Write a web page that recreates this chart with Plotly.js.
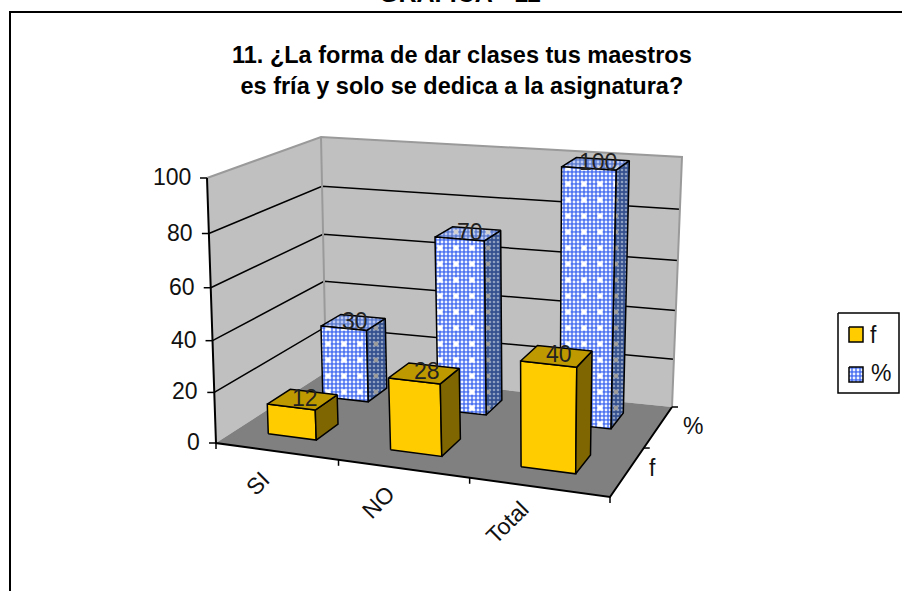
<!DOCTYPE html>
<html><head><meta charset="utf-8">
<script src="https://cdn.plot.ly/plotly-3.0.1.min.js"></script>
<style>html,body{margin:0;padding:0;background:#fff;overflow:hidden}</style>
</head><body><div id="chart" style="width:902px;height:591px"></div>
<script>
const categories = ['SI','NO','Total'];
const seriesNames = ['f','%'];
const fValues = [12,28,40];
const pctValues = [30,70,100];
const zTicks = [0,20,40,60,80,100];
const chartTitle = '11. ¿La forma de dar clases tus maestros<br>es fría y solo se dedica a la asignatura?';
const pageHeading = 'GRAFICA - 11';

// camera of the 3-D box: floor and ceiling quadrilaterals in page pixels
const floorQuad = [[216,443],[610,497],[672,407],[326,372]];
const topQuad   = [[207,178],[616,212],[682,157],[321,137]];
function homography(q){
  const [p0,p1,p2,p3]=q;
  const dx1=p1[0]-p2[0],dx2=p3[0]-p2[0],sx=p0[0]-p1[0]+p2[0]-p3[0];
  const dy1=p1[1]-p2[1],dy2=p3[1]-p2[1],sy=p0[1]-p1[1]+p2[1]-p3[1];
  const den=dx1*dy2-dx2*dy1;
  const g=(sx*dy2-dx2*sy)/den,h=(dx1*sy-sx*dy1)/den;
  const a=p1[0]-p0[0]+g*p1[0],b=p3[0]-p0[0]+h*p3[0],c=p0[0];
  const d=p1[1]-p0[1]+g*p1[1],e=p3[1]-p0[1]+h*p3[1],f=p0[1];
  return (s,t)=>{const w=g*s+h*t+1;return [(a*s+b*t+c)/w,(d*s+e*t+f)/w];};
}
const hFloor=homography(floorQuad), hTop=homography(topQuad);
// u: category axis 0..3, v: series axis 0..2, z: value 0..100
function P(u,v,z){
  let s=u/3; s=s+0.057*s*(1-s);
  const a=hFloor(s,v/2), b=hTop(s,v/2);
  const t=z/100, k=t/(1+0.06*(1-t));
  return [a[0]+(b[0]-a[0])*k, a[1]+(b[1]-a[1])*k];
}
const traces=[], notes=[];
function poly(pts,opt){
  const xs=pts.map(p=>p[0]),ys=pts.map(p=>p[1]);
  const closed=opt.fill||opt.fillpattern;
  if(closed){xs.push(xs[0]);ys.push(ys[0]);}
  const t={type:'scatter',mode:opt.lw?'lines':'none',x:xs,y:ys,hoverinfo:'skip',showlegend:false,
    line:{color:opt.lc||'#000',width:opt.lw||0,simplify:false}};
  if(closed){t.fill='toself';t.fillcolor=opt.fill||'rgba(0,0,0,0)';}
  if(opt.fillpattern)t.fillpattern=opt.fillpattern;
  traces.push(t);
}
function line(pts,c,w){traces.push({type:'scatter',mode:'lines',x:pts.map(p=>p[0]),y:pts.map(p=>p[1]),
  hoverinfo:'skip',showlegend:false,line:{color:c,width:w}});}
const FONT='Liberation Sans, Arial, sans-serif';
function note(x,y,text,size,o){notes.push(Object.assign({xref:'x',yref:'y',x:x,y:y,text:text,showarrow:false,
  font:{family:FONT,size:size,color:o&&o.color||'#111'},xanchor:'center',yanchor:'middle'},o||{}));}

// chart frame
line([[10,591],[10,12],[902,12]],'#000',2);

// walls and floor
const WALL='#c0c0c0',EDGE='#9a9a9a';
poly([P(0,0,0),P(0,2,0),P(0,2,100),P(0,0,100)],{fill:WALL});
poly([P(0,2,0),P(3,2,0),P(3,2,100),P(0,2,100)],{fill:WALL});
poly([P(0,0,0),P(3,0,0),P(3,2,0),P(0,2,0)],{fill:'#808080'});
zTicks.slice(1,-1).forEach(z=>line([P(0,0,z),P(0,2,z),P(3,2,z)],'#000',1.5));
line([P(0,0,100),P(0,2,100),P(3,2,100),P(3,2,0)],EDGE,2);
line([P(0,2,0),P(0,2,100)],EDGE,2);

// axes
line([P(0,0,100),P(0,0,0),P(3,0,0),P(3,2,0)],'#000',2);
zTicks.forEach(z=>{const p=P(0,0,z);line([[p[0]-7,p[1]],p],'#000',1.5);
  note(p[0]-14,p[1]-1,String(z),23,{xanchor:'right'});});
[0,1,2,3].forEach(i=>{const p=P(i,0,0);line([p,[p[0],p[1]+6]],'#000',1.5);});
[1,2].forEach(i=>{const p=P(3,i,0);line([p,[p[0]+6,p[1]]],'#000',1.5);});

// bars
const GOLD={front:'#ffcc00',side:'#7f6600',top:'#bf9900'};
const DOT=(bg,fg,size,sol)=>({shape:'.',bgcolor:bg,fgcolor:fg,size:size,solidity:sol,fgopacity:1});
function bar(i,row,val,kind){
  const u0=i+0.27,u1=i+0.67,v0=row+0.33,v1=row+0.73;
  const fr=[P(u0,v0,0),P(u1,v0,0),P(u1,v0,val),P(u0,v0,val)];
  const sd=[P(u1,v0,0),P(u1,v1,0),P(u1,v1,val),P(u1,v0,val)];
  const tp=[P(u0,v0,val),P(u1,v0,val),P(u1,v1,val),P(u0,v1,val)];
  if(kind==='f'){
    poly(fr,{fill:GOLD.front,lw:1.5});poly(sd,{fill:GOLD.side,lw:1.5});poly(tp,{fill:GOLD.top,lw:1.5});
  }else{
    poly(sd,{fillpattern:DOT('#34508f','#8f9fc0',4,0.35)});
    poly(sd,{fillpattern:DOT('rgba(0,0,0,0)','#9a9a9a',16,0.07),lw:1.5});
    poly(tp,{fillpattern:DOT('#5f7ed0','#bfcaf0',4,0.4)});
    poly(tp,{fillpattern:DOT('rgba(0,0,0,0)','#d0d0d0',16,0.07),lw:1.5});
    poly(fr,{fillpattern:DOT('#4f74f2','#f0f4ff',4,0.4)});
    poly(fr,{fillpattern:DOT('rgba(0,0,0,0)','#ffffff',16,0.09),lw:1.5});
  }
}
pctValues.forEach((v,i)=>bar(i,1,v,'p'));
fValues.forEach((v,i)=>bar(i,0,v,'f'));
function barLabel(i,row,val){
  const p=P(i+0.5,row+0.56,val);
  note(p[0]-3,p[1]-1,String(val),23,{color:'#222'});
}
pctValues.forEach((v,i)=>barLabel(i,1,v));
fValues.forEach((v,i)=>barLabel(i,0,v));

// category and series labels
categories.forEach((c,i)=>{const p=P(i+0.5,0,0);
  note(p[0]-18-i*6.5,p[1]+32+i*1.5,c,23,{textangle:-45});});
seriesNames.forEach((s,i)=>{const p=P(3,i+0.5,0);
  note(p[0]+25+i*10,p[1]-3+i*2,s,23);});

// legend
poly([[838,313],[899,313],[899,393],[838,393]],{fill:'#fff',lw:1.5});
poly([[849,327],[863,327],[863,342],[849,342]],{fill:GOLD.front,lw:1.5});
poly([[849,367],[863,367],[863,382],[849,382]],{fillpattern:DOT('#4f74f2','#f0f4ff',4,0.4),lw:1.5});
note(873,335,seriesNames[0],23);
note(881,373,seriesNames[1],23);

// headings
notes.push({xref:'paper',yref:'paper',x:462.5/902,y:1-71/591,xanchor:'center',yanchor:'middle',showarrow:false,align:'center',
  text:'<b>'+chartTitle.replace('<br>','</b><br><b>')+'</b>',font:{family:FONT,size:23.5,color:'#000'}});
notes.push({xref:'paper',yref:'paper',x:460/902,y:1+7/591,xanchor:'center',yanchor:'middle',showarrow:false,
  text:'<b>'+pageHeading+'</b>',font:{family:FONT,size:25,color:'#000'}});

const layout={width:902,height:591,margin:{l:0,r:0,t:0,b:0},paper_bgcolor:'#fff',plot_bgcolor:'#fff',
  showlegend:false,hovermode:false,
  xaxis:{range:[0,902],visible:false,fixedrange:true},
  yaxis:{range:[591,0],visible:false,fixedrange:true},
  annotations:notes};
Plotly.newPlot('chart',traces,layout,{displayModeBar:false,staticPlot:true});
</script></body></html>
